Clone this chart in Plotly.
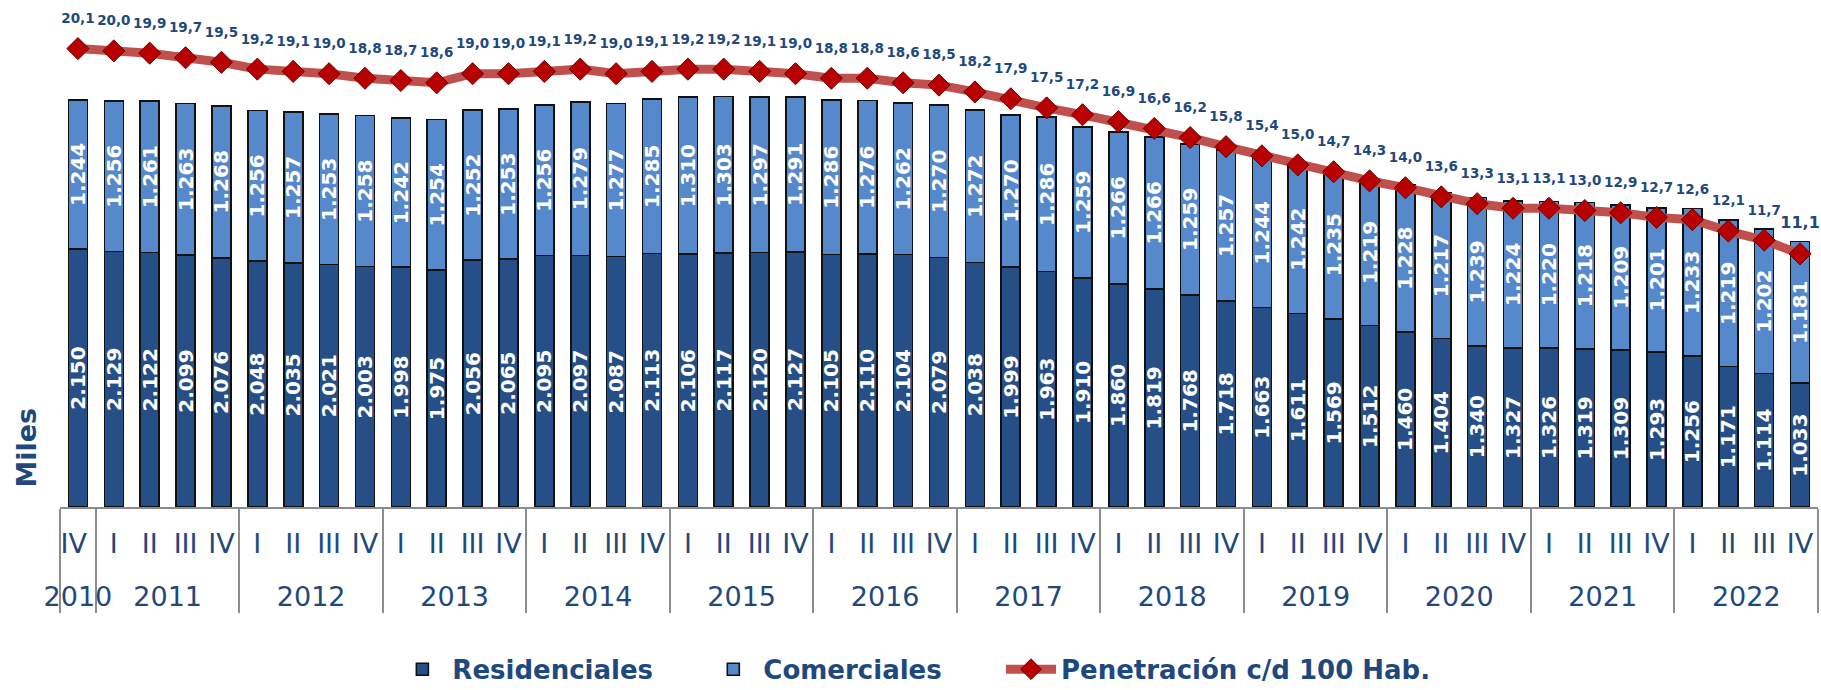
import plotly.graph_objects as go

# ---- data ----
year_labels = ["2010", "2011", "2012", "2013", "2014", "2015", "2016",
               "2017", "2018", "2019", "2020", "2021", "2022"]
# 2010 has only the IV quarter (trailing space keeps it a distinct category so
# that group ordering stays I, II, III, IV in the other years)
quarters_per_year = [["IV "]] + [["I", "II", "III", "IV"]] * 12

residenciales = [2150, 2129, 2122, 2099, 2076, 2048, 2035, 2021, 2003, 1998,
                 1975, 2056, 2065, 2095, 2097, 2087, 2113, 2106, 2117, 2120,
                 2127, 2105, 2110, 2104, 2079, 2038, 1999, 1963, 1910, 1860,
                 1819, 1768, 1718, 1663, 1611, 1569, 1512, 1460, 1404, 1340,
                 1327, 1326, 1319, 1309, 1293, 1256, 1171, 1114, 1033]
comerciales = [1244, 1256, 1261, 1263, 1268, 1256, 1257, 1253, 1258, 1242,
               1254, 1252, 1253, 1256, 1279, 1277, 1285, 1310, 1303, 1297,
               1291, 1286, 1276, 1262, 1270, 1272, 1270, 1286, 1259, 1266,
               1266, 1259, 1257, 1244, 1242, 1235, 1219, 1228, 1217, 1239,
               1224, 1220, 1218, 1209, 1201, 1233, 1219, 1202, 1181]
penetracion = [20.1, 20.0, 19.9, 19.7, 19.5, 19.2, 19.1, 19.0, 18.8, 18.7,
               18.6, 19.0, 19.0, 19.1, 19.2, 19.0, 19.1, 19.2, 19.2, 19.1,
               19.0, 18.8, 18.8, 18.6, 18.5, 18.2, 17.9, 17.5, 17.2, 16.9,
               16.6, 16.2, 15.8, 15.4, 15.0, 14.7, 14.3, 14.0, 13.6, 13.3,
               13.1, 13.1, 13.0, 12.9, 12.7, 12.6, 12.1, 11.7, 11.1]

# ---- build multicategory x ----
# a small empty second line under each quarter label widens the gap to the year row
SPACER = "<br><span style='font-size:14px'> </span>"
x_year, x_q = [], []
for y, qs in zip(year_labels, quarters_per_year):
    for q in qs:
        x_year.append(y)
        x_q.append(q + SPACER)
x = [x_year, x_q]

def fmt_int(v):
    return f"{v:,}".replace(",", ".")

def fmt_dec(v):
    return f"{v:.1f}".replace(".", ",")

DARK = "#254F86"
LIGHT = "#5689CB"
TXT = "#1F497D"
FONT = "DejaVu Sans"
NB = "\u00a0"

fig = go.Figure()
fig.add_trace(go.Bar(
    x=x, y=residenciales, name="Residenciales" + NB * 5,
    marker=dict(color=DARK, line=dict(color="#111111", width=1.6)),
    text=[fmt_int(v) for v in residenciales],
    textposition="inside", insidetextanchor="middle", textangle=-90,
    constraintext="none",
    textfont=dict(family=FONT, size=20, color="white", weight="bold"),
))
fig.add_trace(go.Bar(
    x=x, y=comerciales, name="Comerciales" + NB * 6,
    marker=dict(color=LIGHT, line=dict(color="#111111", width=1.6)),
    text=[fmt_int(v) for v in comerciales],
    textposition="inside", insidetextanchor="middle", textangle=-90,
    constraintext="none",
    textfont=dict(family=FONT, size=20, color="white", weight="bold"),
))
fig.add_trace(go.Scatter(
    x=x, y=penetracion, name="Penetración c/d 100 Hab.", yaxis="y2",
    mode="lines+markers",
    line=dict(color="#C0504D", width=9),
    marker=dict(symbol="diamond", size=17, color="#B80000",
                line=dict(color="#6E0000", width=1)),
))
label_sizes = [13.5] * (len(penetracion) - 1) + [16]
fig.add_trace(go.Scatter(
    x=x, y=penetracion, yaxis="y2", mode="markers+text", showlegend=False,
    marker=dict(size=34, color="rgba(0,0,0,0)"),
    text=[fmt_dec(v) for v in penetracion], textposition="top center",
    textfont=dict(family=FONT, size=label_sizes, color=TXT, weight="bold"),
    cliponaxis=False, hoverinfo="skip",
))

fig.update_layout(
    width=1821, height=690,
    margin=dict(l=60, r=3, t=3, b=183, autoexpand=False),
    paper_bgcolor="white", plot_bgcolor="white",
    barmode="stack", bargap=0.47,
    font=dict(family=FONT, color=TXT),
    xaxis=dict(type="multicategory", range=[-0.5, len(residenciales) - 0.5],
               showline=True, linecolor="#8C8C8C",
               linewidth=1.5, showdividers=True, dividercolor="#8C8C8C",
               dividerwidth=1.5, showgrid=False, ticks="", tickangle=0,
               ticklabelstandoff=12, automargin=False,
               tickfont=dict(family=FONT, size=27, color=TXT)),
    yaxis=dict(range=[0, 4200], showgrid=False, showticklabels=False,
               zeroline=False, showline=False),
    yaxis2=dict(range=[0, 22.1], overlaying="y", showgrid=False,
                showticklabels=False, zeroline=False, showline=False),
    legend=dict(orientation="h", x=0.4857, xanchor="center", y=-0.322,
                yanchor="middle", traceorder="normal", itemwidth=50,
                font=dict(family=FONT, size=26, color=TXT, weight="bold")),
    showlegend=True,
)
fig.add_annotation(
    text="Miles", xref="paper", yref="paper", x=-0.0193, y=0.118,
    xanchor="center", yanchor="middle",
    showarrow=False, textangle=-90,
    font=dict(family=FONT, size=27, color=TXT, weight="bold"),
)

fig.write_html("out.html",
               config={"displayModeBar": False},
               post_script="document.body.style.margin='0';"
                           "document.body.style.overflow='hidden';")
